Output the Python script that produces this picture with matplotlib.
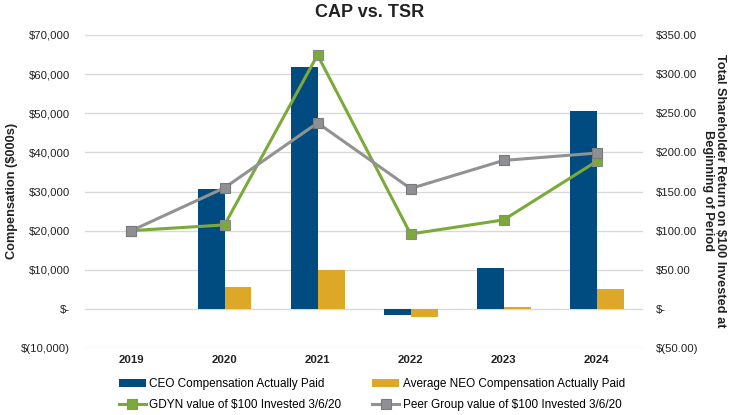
import matplotlib
matplotlib.use("Agg")
import matplotlib.pyplot as plt
import numpy as np
from matplotlib.ticker import FuncFormatter

plt.rcParams['font.family'] = ['Liberation Sans', 'DejaVu Sans']

years = ["2019", "2020", "2021", "2022", "2023", "2024"]
ceo_cap = [0, 30600, 61700, -1600, 10400, 50600]
neo_cap = [0, 5500, 9900, -2200, 600, 5100]
gdyn_tsr = [100, 107.3, 324.4, 95.7, 113.7, 188.5]
peer_tsr = [100, 154.7, 237.6, 153.8, 189.7, 199.1]

c_ceo = "#004B80"
c_neo = "#DDA828"
c_gdyn = "#7BAA3A"
c_peer = "#929292"

fig = plt.figure(figsize=(7.35, 4.15), dpi=100)
ax = fig.add_axes([0.1156, 0.1614, 0.7594, 0.7543])
ax2 = ax.twinx()

x = np.arange(len(years))
w = 0.29
b1 = ax.bar(x - w/2, ceo_cap, w, color=c_ceo, label="CEO Compensation Actually Paid", zorder=2)
b2 = ax.bar(x + w/2, neo_cap, w, color=c_neo, label="Average NEO Compensation Actually Paid", zorder=2)

l1, = ax2.plot(x, gdyn_tsr, color=c_gdyn, lw=2.2, marker='s', ms=7.5, mfc=c_gdyn, mec="#8A8A8A", mew=0.8,
               label="GDYN value of $100 Invested 3/6/20", zorder=3)
l2, = ax2.plot(x, peer_tsr, color=c_peer, lw=2.2, marker='s', ms=7.5, mfc="#8E9094", mec="#7A7A7A", mew=0.8,
               label="Peer Group value of $100 Invested 3/6/20", zorder=4)

ax.set_xlim(-0.5, 5.5)
ax.set_ylim(-10000, 70000)
ax2.set_ylim(-50, 350)
ax.set_yticks(np.arange(-10000, 70001, 10000))
ax2.set_yticks(np.arange(-50, 351, 50))

def fmt_left(v, pos):
    if v == 0:
        return "$-"
    if v < 0:
        return "$({:,.0f})".format(-v)
    return "${:,.0f}".format(v)

def fmt_right(v, pos):
    if v == 0:
        return "$-"
    if v < 0:
        return "$({:,.2f})".format(-v)
    return "${:,.2f}".format(v)

ax.yaxis.set_major_formatter(FuncFormatter(fmt_left))
ax2.yaxis.set_major_formatter(FuncFormatter(fmt_right))

ax.grid(axis='y', color="#D9D9D9", lw=1, zorder=0)
ax.set_axisbelow(True)
for a in (ax, ax2):
    for s in a.spines.values():
        s.set_visible(False)
    a.tick_params(length=0, labelsize=8.2, colors="#222222")

ax.set_xticks(x)
ax.set_xticklabels(years, fontweight='bold')
ax.tick_params(axis='x', pad=5)
ax.tick_params(axis='y', pad=11)
ax2.tick_params(axis='y', pad=9)

fig.text(0.0163, 0.54, "Compensation ($000s)", rotation=90, ha='center', va='center',
         fontsize=9.2, fontweight='bold', color="#222222")
fig.text(0.971, 0.54, "Total Shareholder Return on $100 Invested at\nBeginning of Period", rotation=270,
         ha='center', va='center', fontsize=9.2, fontweight='bold', color="#222222", linespacing=1.0,
         multialignment='center')

fig.text(0.503, 0.97, "CAP vs. TSR", ha='center', va='center', fontsize=13, fontweight='bold', color="#222222")

fig.legend(handles=[b1, l1, b2, l2], ncol=2, loc='upper center', bbox_to_anchor=(0.506, 0.115),
           frameon=False, fontsize=8.5, columnspacing=2.6, handlelength=2.3, handletextpad=0.3,
           labelspacing=0.8)

fig.savefig("out.png", dpi=100)
